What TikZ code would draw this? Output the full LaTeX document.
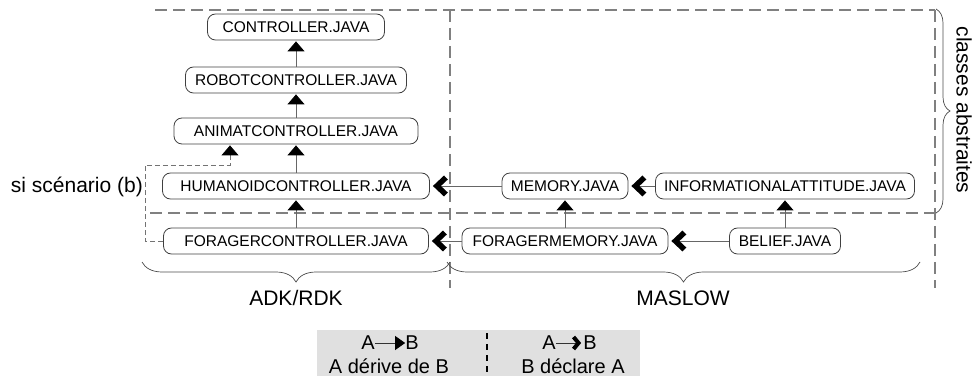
\documentclass[tikz,border=0pt]{standalone}
\usepackage{fontspec}
\setmainfont{Liberation Sans}
\usetikzlibrary{arrows.meta,decorations.pathreplacing}

\begin{document}
\begin{tikzpicture}[x=1pt,y=-1pt,
  cls/.style={draw=black!75, line width=0.8pt, rounded corners=8pt,
    minimum height=26pt, inner sep=0pt, font=\fontsize{15.5}{16}\selectfont},
  inh/.style={draw=black!60, line width=0.9pt, shorten >=1pt,
    -{Triangle[width=17pt,length=10pt,black]}},
  decl/.style={draw=black!60, line width=0.9pt, shorten >=3pt,
    -{Straight Barb[length=9pt,width=17pt,line width=5.5pt,black]}},
  zone/.style={draw=black!50, line width=1.1pt, dash pattern=on 12pt off 6pt},
  scen/.style={draw=black!55, line width=0.8pt, dash pattern=on 5pt off 3pt},
  grp/.style={draw=black!70, line width=0.7pt, decorate},
  lbl/.style={font=\fontsize{21}{22}\selectfont, inner sep=0pt},
  leg/.style={font=\fontsize{20}{21}\selectfont, inner sep=0pt}
]
\useasboundingbox (0,0) rectangle (979,379);

% zones
\draw[zone] (155,10) -- (935,10);
\draw[zone] (150,213) -- (935,213);
\draw[zone] (450,10) -- (450,288);
\draw[zone] (935,10) -- (935,288);

% classes
\node[cls, minimum width=177pt] (ctl) at (296,27)  {CONTROLLER.JAVA};
\node[cls, minimum width=221pt] (rob) at (296,80)  {ROBOTCONTROLLER.JAVA};
\node[cls, minimum width=244pt] (ani) at (296,131) {ANIMATCONTROLLER.JAVA};
\node[cls, minimum width=267pt] (hum) at (296,186) {HUMANOIDCONTROLLER.JAVA};
\node[cls, minimum width=265pt] (fc)  at (296,241) {FORAGERCONTROLLER.JAVA};
\node[cls, minimum width=126pt] (mem) at (565,186) {MEMORY.JAVA};
\node[cls, minimum width=259pt] (inf) at (785,186) {INFORMATIONALATTITUDE.JAVA};
\node[cls, minimum width=206pt] (fm)  at (565,241) {FORAGERMEMORY.JAVA};
\node[cls, minimum width=111pt] (bel) at (785,241) {BELIEF.JAVA};

% inheritance
\draw[inh] (rob) -- (ctl);
\draw[inh] (ani) -- (rob);
\draw[inh] (hum) -- (ani);
\draw[inh] (fc)  -- (hum);
\draw[inh] (fm)  -- (mem);
\draw[inh] (bel) -- (inf);

% declarations
\draw[decl] (mem) -- (hum);
\draw[decl] (inf) -- (mem);
\draw[decl] (fm)  -- (fc);
\draw[decl] (bel) -- (fm);

% alternative inheritance
\coordinate (sbA) at (145,241);
\coordinate (sbB) at (145,165);
\coordinate (sbC) at (230,165);
\draw[scen, shorten >=1pt, -{Triangle[width=17pt,length=10pt,black]}]
  (fc.west) -- (sbA) -- (sbB) -- (sbC) -- (sbC |- ani.south);
\node[lbl, anchor=east] (scn) at (143,187) {si scénario (b)};

% groups
\draw[grp, decoration={brace,amplitude=20pt}] (450,262) -- (142,262);
\draw[grp, decoration={brace,amplitude=20pt}] (920,262) -- (447,262);
\draw[grp, decoration={brace,amplitude=14pt}] (936,9) -- (936,213);
\node[lbl] (adk) at (296,298) {ADK/RDK};
\node[lbl] (mas) at (683,298) {MASLOW};
\node[lbl, rotate=-90] (abs) at (964,110) {classes abstraites};

% legend
\fill[black!12] (317,330) rectangle (640,376);
\draw[black, line width=2.5pt, dash pattern=on 6pt off 5pt] (487,333) -- (487,373);
\node[leg] (la) at (368,343) {A};
\node[leg] (lb) at (412,343) {B};
\draw[draw=black!80, line width=0.9pt, -{Triangle[width=14pt,length=10pt,black]}] (la) -- (lb);
\node[leg] (ld) at (389,366) {A dérive de B};
\node[leg] (lc) at (549,343) {A};
\node[leg] (le) at (590,343) {B};
\draw[draw=black!80, line width=0.9pt, shorten >=2pt,
  -{Straight Barb[length=5pt,width=12pt,line width=4pt,black]}] (lc) -- (le);
\node[leg] (lf) at (573,366) {B déclare A};
\end{tikzpicture}
\end{document}
